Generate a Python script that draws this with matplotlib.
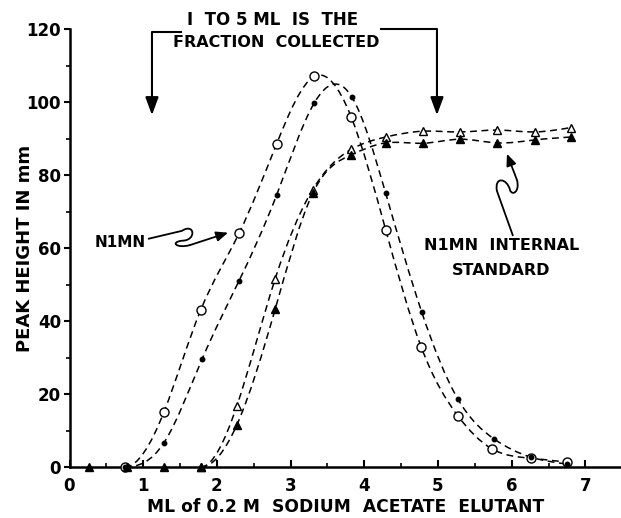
import numpy as np
import matplotlib
matplotlib.use("Agg")
import matplotlib.pyplot as plt
from matplotlib.path import Path
from matplotlib.patches import PathPatch

# Elution profiles: peak height (mm) vs. volume of 0.2 M sodium acetate (ml)
n1mn_open_x = [0.75, 1.28, 1.78, 2.30, 2.81, 3.32, 3.82, 4.29, 4.77, 5.27, 5.73, 6.26, 6.75]
n1mn_open_y = [0.0, 15.0, 43.0, 64.0, 88.5, 107.0, 96.0, 65.0, 33.0, 14.0, 5.0, 2.4, 1.3]

n1mn_dot_x = [0.75, 1.28, 1.80, 2.30, 2.81, 3.32, 3.83, 4.29, 4.78, 5.27, 5.76, 6.26, 6.75]
n1mn_dot_y = [0.0, 6.6, 29.6, 51.0, 74.5, 99.7, 101.4, 75.0, 42.4, 18.6, 7.7, 2.7, 0.8]

std_open_x = [1.78, 2.27, 2.79, 3.30, 3.82, 4.29, 4.80, 5.30, 5.80, 6.31, 6.80]
std_open_y = [0.0, 16.7, 51.5, 76.0, 87.0, 90.4, 92.0, 91.8, 92.3, 91.8, 93.0]

std_fill_x = [0.27, 0.78, 1.28, 1.78, 2.27, 2.79, 3.30, 3.82, 4.29, 4.80, 5.30, 5.80, 6.31, 6.80]
std_fill_y = [0.0, 0.0, 0.0, 0.0, 11.5, 43.2, 75.0, 85.5, 88.8, 88.7, 89.8, 88.8, 89.6, 90.4]

x_ticks = [0, 1, 2, 3, 4, 5, 6, 7]
y_ticks = [0, 20, 40, 60, 80, 100, 120]

plt.rcParams["font.family"] = "DejaVu Sans"
plt.rcParams["font.weight"] = "bold"

fig = plt.figure(figsize=(6.21, 5.18), dpi=100)
W, H = 621, 518
x0_px, y0_px, ytop_px = 69.5, 467, 29
ax = fig.add_axes([x0_px / W, (H - y0_px) / H, 1 - x0_px / W, (y0_px - ytop_px) / H])
ax.set_xlim(0, (W - x0_px) / 73.7)
ax.set_ylim(0, 120)

for s in ("top", "right"):
    ax.spines[s].set_visible(False)
for s in ("left", "bottom"):
    ax.spines[s].set_linewidth(1.8)
ax.spines["left"].set_bounds(0, 120)

ax.set_xticks(x_ticks)
ax.set_xticklabels([str(v) for v in x_ticks])
ax.set_xticks(np.arange(0.5, 7.5, 1.0), minor=True)
ax.set_yticks(y_ticks)
ax.set_yticklabels([str(v) for v in y_ticks])
ax.set_yticks(np.arange(10, 120, 20), minor=True)
ax.tick_params(axis="x", which="major", direction="in", length=5, width=1.5,
               pad=7, labelsize=12)
ax.tick_params(axis="x", which="minor", direction="in", length=3, width=1.2)
ax.tick_params(axis="y", which="major", direction="out", length=4, width=1.5,
               pad=2, labelsize=12)
ax.tick_params(axis="y", which="minor", direction="out", length=3, width=1.2)

fig.text(25 / W, 1 - 248 / H, "PEAK HEIGHT IN mm", rotation=90, ha="center",
         va="center", fontsize=13)
fig.text(346 / W, 1 - 507 / H, "ML of 0.2 M  SODIUM  ACETATE  ELUTANT",
         ha="center", va="center", fontsize=12.3)

DASH = (0, (4.5, 3))


def smooth_curve(xs, ys):
    """Dashed cubic spline (flat start) through the measured points."""
    xs = np.asarray(xs, float)
    ys = np.asarray(ys, float)
    n = len(xs)
    h = np.diff(xs)
    d = np.diff(ys) / h
    A = np.zeros((n, n))
    b = np.zeros(n)
    A[0, 0] = 1.0            # start leaves the baseline horizontally
    for i in range(1, n - 1):
        A[i, i - 1] = h[i]
        A[i, i] = 2 * (h[i - 1] + h[i])
        A[i, i + 1] = h[i - 1]
        b[i] = 3 * (h[i] * d[i - 1] + h[i - 1] * d[i])
    A[-1, -2] = 1.0          # natural end
    A[-1, -1] = 2.0
    b[-1] = 3 * d[-1]
    m = np.linalg.solve(A, b)
    verts = [(xs[0], ys[0])]
    codes = [Path.MOVETO]
    for i in range(n - 1):
        verts += [(xs[i] + h[i] / 3, ys[i] + m[i] * h[i] / 3),
                  (xs[i + 1] - h[i] / 3, ys[i + 1] - m[i + 1] * h[i] / 3),
                  (xs[i + 1], ys[i + 1])]
        codes += [Path.CURVE4] * 3
    ax.add_patch(PathPatch(Path(verts, codes), fill=False, lw=1.1,
                           ls=DASH, color="black", zorder=2,
                           capstyle="butt"))


smooth_curve(n1mn_open_x, n1mn_open_y)
smooth_curve(n1mn_dot_x, n1mn_dot_y)
smooth_curve(std_open_x, std_open_y)
smooth_curve(std_fill_x[3:], std_fill_y[3:])

ax.plot(n1mn_open_x, n1mn_open_y, ls="none", marker="o", ms=6.5, mfc="white",
        mec="black", mew=1.0, zorder=4, clip_on=False)
ax.plot(n1mn_dot_x, n1mn_dot_y, ls="none", marker="o", ms=3.2, color="black",
        zorder=4, clip_on=False)
ax.plot(std_open_x, std_open_y, ls="none", marker="^", ms=6, mfc="white",
        mec="black", mew=1.0, zorder=4, clip_on=False)
ax.plot(std_fill_x, std_fill_y, ls="none", marker="^", ms=6, color="black",
        zorder=5, clip_on=False)

# Collected-fraction bracket
ax.text(2.755, 122.5, "I  TO 5 ML  IS  THE", ha="center", va="center",
        fontsize=12, clip_on=False)
ax.text(2.809, 116.4, "FRACTION  COLLECTED", ha="center", va="center",
        fontsize=11.5, clip_on=False)
big_head = dict(arrowstyle="-|>,head_length=0.6,head_width=0.22",
                mutation_scale=18, lw=1.5, color="black",
                shrinkA=0, shrinkB=0)
ax.plot([1.526, 1.119], [119.2, 119.2], color="black", lw=1.5, clip_on=False,
        solid_capstyle="butt")
ax.annotate("", xy=(1.119, 96.4), xytext=(1.119, 119.2), arrowprops=big_head,
            annotation_clip=False)
ax.plot([4.213, 4.986], [120.0, 120.0], color="black", lw=1.5, clip_on=False,
        solid_capstyle="butt")
ax.annotate("", xy=(4.986, 96.4), xytext=(4.986, 120.0), arrowprops=big_head,
            annotation_clip=False)

small_head = dict(arrowstyle="-|>,head_length=0.7,head_width=0.3",
                  mutation_scale=10, lw=1.3, color="black",
                  shrinkA=0, shrinkB=0)

# N1MN label with wavy pointer
ax.text(0.685, 61.4, "N1MN", ha="center", va="center", fontsize=11)
wave1 = Path([(1.065, 62.5), (1.526, 64.7),
              (1.700, 67.0), (1.730, 62.0), (1.526, 62.0),
              (1.364, 61.6), (1.450, 59.8), (1.635, 60.8)],
             [Path.MOVETO, Path.LINETO,
              Path.CURVE4, Path.CURVE4, Path.CURVE4,
              Path.CURVE4, Path.CURVE4, Path.CURVE4])
ax.add_patch(PathPatch(wave1, fill=False, lw=1.3, color="black"))
ax.annotate("", xy=(2.151, 64.2), xytext=(1.635, 60.8), arrowprops=small_head)

# Internal standard label with wavy pointer
ax.text(5.862, 60.8, "N1MN  INTERNAL", ha="center", va="center", fontsize=11.5)
ax.text(5.862, 53.9, "STANDARD", ha="center", va="center", fontsize=11.5)
wave2 = Path([(6.018, 63.3), (5.800, 75.6),
              (5.760, 79.7), (5.936, 79.2), (5.977, 75.9),
              (6.004, 74.2), (6.113, 75.3), (6.072, 78.6)],
             [Path.MOVETO, Path.LINETO,
              Path.CURVE4, Path.CURVE4, Path.CURVE4,
              Path.CURVE4, Path.CURVE4, Path.CURVE4])
ax.add_patch(PathPatch(wave2, fill=False, lw=1.3, color="black"))
ax.annotate("", xy=(5.936, 85.8), xytext=(6.072, 78.6), arrowprops=small_head)

fig.savefig("out.png", dpi=100)
